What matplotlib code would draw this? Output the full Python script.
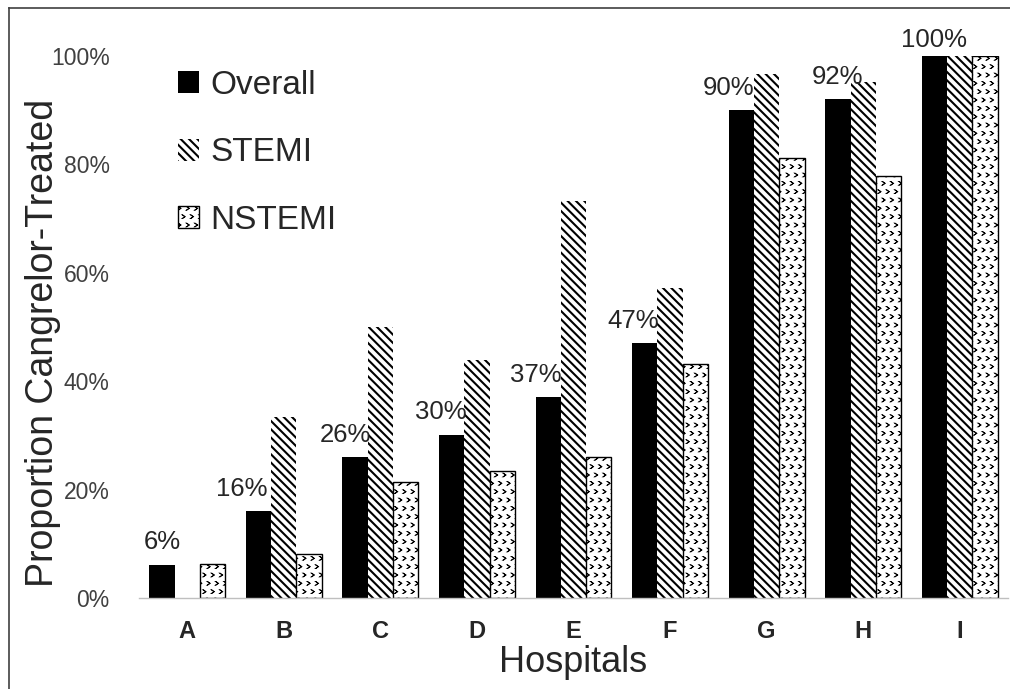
import warnings
import numpy as np
import matplotlib
matplotlib.use("Agg")
import matplotlib.pyplot as plt
import matplotlib.hatch as mhatch
from matplotlib.path import Path
from matplotlib.lines import Line2D

warnings.filterwarnings("ignore")

# ---- data -------------------------------------------------------------
hospitals = ["A", "B", "C", "D", "E", "F", "G", "H", "I"]
overall = [6, 16, 26, 30, 37, 47, 90, 92, 100]
stemi = [0, 33.3, 50, 43.8, 73.2, 57.1, 96.7, 95.1, 100]
nstemi = [6.2, 8.2, 21.3, 23.4, 26, 43.2, 81.1, 77.9, 100]
overall_labels = ["6%", "16%", "26%", "30%", "37%", "47%", "90%", "92%", "100%"]
yticks = [0, 20, 40, 60, 80, 100]
ytick_labels = ["0%", "20%", "40%", "60%", "80%", "100%"]

# label nudges (points) relative to the centre of each Overall bar
label_dx = [0, -12, -7, -8, -9, -8, -9, 0, 0]
label_dy = [12, 11, 11, 12, 11, 11, 11, 11, 6]

BSL = chr(92)


# small chevron fill used for the NSTEMI bars
class Chevrons(mhatch.Shapes):
    size = 0.45
    filled = True

    def __init__(self, hatch, density):
        self.num_rows = hatch.count(">") * density
        verts = np.array([[-0.35, 0.5], [0.35, 0.0], [-0.35, -0.5],
                          [-0.18, -0.5], [0.52, 0.0], [-0.18, 0.5],
                          [-0.35, 0.5]])
        codes = [Path.MOVETO] + [Path.LINETO] * 5 + [Path.CLOSEPOLY]
        self.shape_vertices = verts
        self.shape_codes = np.array(codes, dtype=Path.code_type)
        super().__init__(hatch, density)


mhatch._hatch_types.append(Chevrons)

plt.rcParams["hatch.linewidth"] = 1.5
plt.rcParams["font.family"] = ["Liberation Sans", "DejaVu Sans"]

fig = plt.figure(figsize=(10.10, 6.89), dpi=100)
W, H = 1010, 689
ax = fig.add_axes([139 / W, (H - 598) / H, 869 / W, (598 - 55.7) / H])

x = np.arange(len(hospitals))
bw = 0.262

b1 = ax.bar(x - bw, overall, bw, color="black", edgecolor="black",
            linewidth=0, label="Overall")
b2 = ax.bar(x, stemi, bw, color="white", edgecolor="black", linewidth=0,
            hatch=BSL * 4, label="STEMI")
b3 = ax.bar(x + bw, nstemi, bw, color="white", edgecolor="black",
            linewidth=1.0, hatch=">>", label="NSTEMI")
for p in b3:
    if hasattr(p, "set_hatch_linewidth"):
        p.set_hatch_linewidth(0.6)

for xi, v, txt, dx, dy in zip(x, overall, overall_labels, label_dx, label_dy):
    ax.annotate(txt, (xi - bw, v), xytext=(dx, dy), textcoords="offset points",
                ha="center", va="baseline", fontsize=18.5, color="#262626",
                annotation_clip=False)

ax.set_xlim(-0.5, len(hospitals) - 0.5)
ax.set_ylim(0, 100)
ax.set_yticks(yticks)
ax.set_yticklabels(ytick_labels)
ax.set_xticks(x)
ax.set_xticklabels(hospitals, fontweight="bold")
ax.tick_params(axis="y", length=0, pad=21, labelsize=16.5, labelcolor="#404040")
ax.tick_params(axis="x", length=0, pad=16, labelsize=17, labelcolor="#262626")

for s in ["top", "right", "left"]:
    ax.spines[s].set_visible(False)
ax.spines["bottom"].set_color("#bfbfbf")
ax.spines["bottom"].set_linewidth(1.0)

ax.set_xlabel("Hospitals", fontsize=26, color="#262626", labelpad=1)
ax.set_ylabel("Proportion Cangrelor-Treated", fontsize=27, color="#262626")
ax.yaxis.set_label_coords(-0.09, 0.47)

leg = ax.legend(loc="upper left", bbox_to_anchor=(161 / W, 1 - 53 / H),
                bbox_transform=fig.transFigure, frameon=False, fontsize=24,
                handlelength=0.64, handleheight=0.64, handletextpad=0.35,
                labelspacing=1.1, borderpad=0, labelcolor="#262626")
for h in leg.legend_handles:
    if hasattr(h, "set_hatch_linewidth") and h.get_hatch() == ">>":
        h.set_hatch_linewidth(0.6)

# outer frame (left and top edges)
fig.add_artist(Line2D([9 / W, 9 / W], [0, 1 - 8 / H], color="#404040",
                      linewidth=1.2, transform=fig.transFigure))
fig.add_artist(Line2D([9 / W, 1], [1 - 8 / H, 1 - 8 / H], color="#404040",
                      linewidth=1.2, transform=fig.transFigure))

fig.savefig("out.png", dpi=100)
